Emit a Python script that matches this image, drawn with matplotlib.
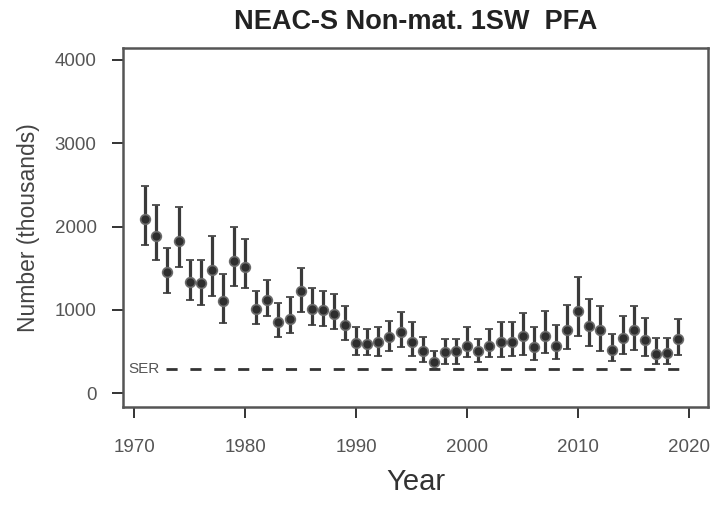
import numpy as np
import matplotlib
matplotlib.use('Agg')
import matplotlib.pyplot as plt

plt.rcParams['font.family'] = ['Liberation Sans', 'DejaVu Sans']

# Data =====================================
years = np.arange(1971, 2020)
pfa = [2090, 1885, 1450, 1825, 1335, 1320, 1475, 1105, 1585, 1515,
       1010, 1115, 850, 890, 1225, 1005, 995, 950, 815, 600,
       590, 610, 670, 730, 610, 505, 370, 490, 505, 565,
       505, 565, 610, 610, 685, 550, 685, 565, 755, 985,
       805, 755, 515, 660, 755, 635, 470, 480, 650]
upper = [2485, 2255, 1740, 2235, 1595, 1595, 1885, 1430, 1995, 1850,
         1225, 1355, 1080, 1150, 1500, 1260, 1225, 1190, 1045, 790,
         770, 790, 865, 970, 850, 670, 505, 650, 650, 790,
         650, 765, 850, 850, 960, 790, 985, 815, 1055, 1390,
         1130, 1045, 710, 925, 1045, 900, 660, 660, 890]
lower = [1780, 1600, 1200, 1515, 1115, 1055, 1165, 840, 1285, 1260,
         830, 925, 670, 720, 970, 815, 805, 770, 635, 455,
         455, 445, 505, 550, 445, 370, 290, 350, 350, 430,
         370, 430, 430, 445, 455, 395, 480, 410, 530, 685,
         565, 505, 385, 470, 515, 445, 350, 350, 455]
ser = 290

pfa = np.array(pfa)
yerr = np.vstack([pfa - np.array(lower), np.array(upper) - pfa])

fig = plt.figure(figsize=(7.11, 5.05), dpi=100)
ax = fig.add_axes([0.173, 0.194, 0.823, 0.711])

ax.errorbar(years, pfa, yerr=yerr, fmt='o', color='#3a3a3a', ecolor='#3a3a3a',
            elinewidth=2.3, capsize=3, capthick=1.6, markersize=7,
            markerfacecolor='#2e2e2e', markeredgecolor='#6a6a6a', markeredgewidth=1.2)

ax.hlines(ser, 1972.9, 2019.3, colors='#333333', linestyles=(0, (4, 4.6)), linewidth=2)
ax.text(1969.5, ser, 'SER', fontsize=11, color='#555555', va='center', ha='left')

ax.set_xlim(1969.0, 2021.7)
ax.set_ylim(-168, 4144)
ax.set_xticks(np.arange(1970, 2021, 10))
ax.set_yticks(np.arange(0, 4001, 1000))
ax.tick_params(direction='out', length=8, width=1.4, colors='#333333', labelsize=13.5,
               labelcolor='#555555')
ax.tick_params(axis='y', pad=11)
ax.tick_params(axis='x', pad=15)

for s in ax.spines.values():
    s.set_linewidth(1.8)
    s.set_color('#555555')

ax.set_xlabel('Year', fontsize=21, color='#333333', va='center')
ax.xaxis.set_label_coords(0.5, -0.209)
ax.set_ylabel('Number (thousands)', fontsize=16.5, color='#444444', va='center')
ax.yaxis.set_label_coords(-0.162, 0.5)
fig.text(0.585, 0.956, 'NEAC-S Non-mat. 1SW  PFA', fontsize=19.5, fontweight='bold',
         ha='center', va='center', color='#222222')

fig.savefig('out.png', dpi=100)
